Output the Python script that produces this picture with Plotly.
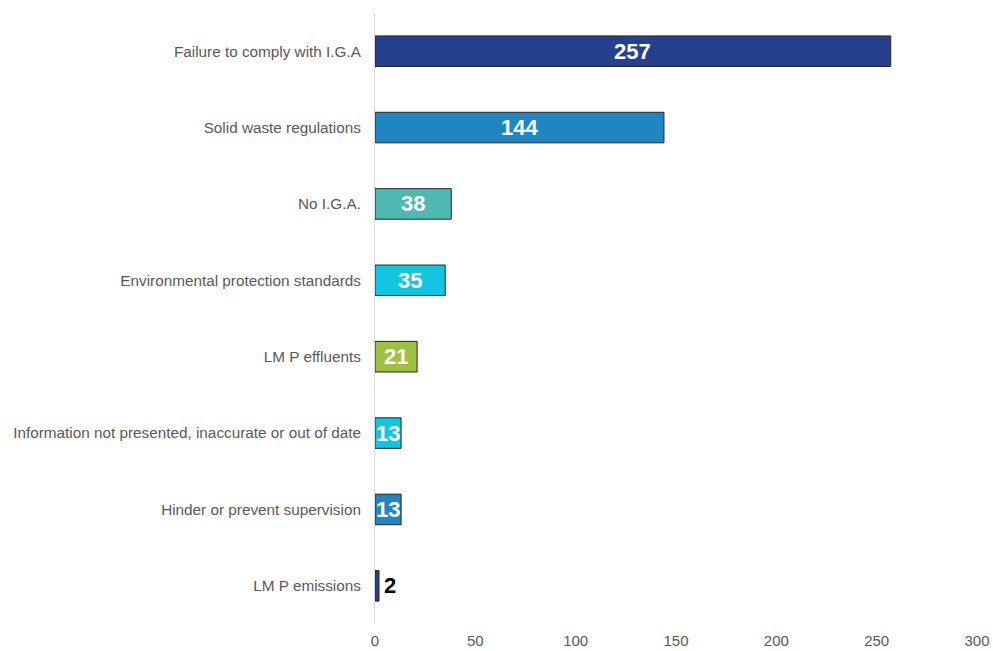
import plotly.graph_objects as go

categories = [
    "Failure to comply with I.G.A",
    "Solid waste regulations",
    "No I.G.A.",
    "Environmental protection standards",
    "LM P effluents",
    "Information not presented, inaccurate or out of date",
    "Hinder or prevent supervision",
    "LM P emissions",
]
values = [257, 144, 38, 35, 21, 13, 13, 2]
colors = ["#27408E", "#1F86C1", "#4DB9B1", "#12C6E1", "#9CC144", "#12C6E1", "#1F86C1", "#27408E"]
x_ticks = [0, 50, 100, 150, 200, 250, 300]

fig = go.Figure()
fig.add_trace(go.Bar(
    y=categories, x=values, orientation="h",
    marker=dict(color=colors, line=dict(color="#262626", width=1)),
    width=0.4, showlegend=False, hoverinfo="x+y",
))

for c, v in zip(categories, values):
    if v >= 10:
        fig.add_annotation(x=v / 2, y=c, text=f"<b>{v}</b>", showarrow=False,
                           font=dict(family="Liberation Sans, Arial", size=22, color="white"),
                           xanchor="center", yanchor="middle")
    else:
        fig.add_annotation(x=v, y=c, text=f"<b>{v}</b>", showarrow=False,
                           font=dict(family="Liberation Sans, Arial", size=22, color="black"),
                           xanchor="left", yanchor="middle", xshift=3)

fig.update_layout(
    autosize=False,
    width=993, height=651,
    margin=dict(l=375, r=16, t=13, b=27),
    plot_bgcolor="white", paper_bgcolor="white",
    font=dict(family="Liberation Sans, Arial", size=15.3, color="#595959"),
    xaxis=dict(range=[0, 300], tickvals=x_ticks, showgrid=False, zeroline=False,
               showline=False, ticks="", ticklabelstandoff=6, automargin=False,
               tickfont=dict(size=15, color="#595959")),
    yaxis=dict(autorange="reversed", showgrid=False, zeroline=False, showline=True,
               linecolor="#D9D9D9", linewidth=1, ticks="", ticklabelstandoff=10,
               automargin=False, tickfont=dict(size=15.3, color="#595959")),
)

fig.write_html("out.html",
               config={"displayModeBar": False, "responsive": False},
               post_script="document.body.style.margin='0';document.body.style.overflow='hidden';")
